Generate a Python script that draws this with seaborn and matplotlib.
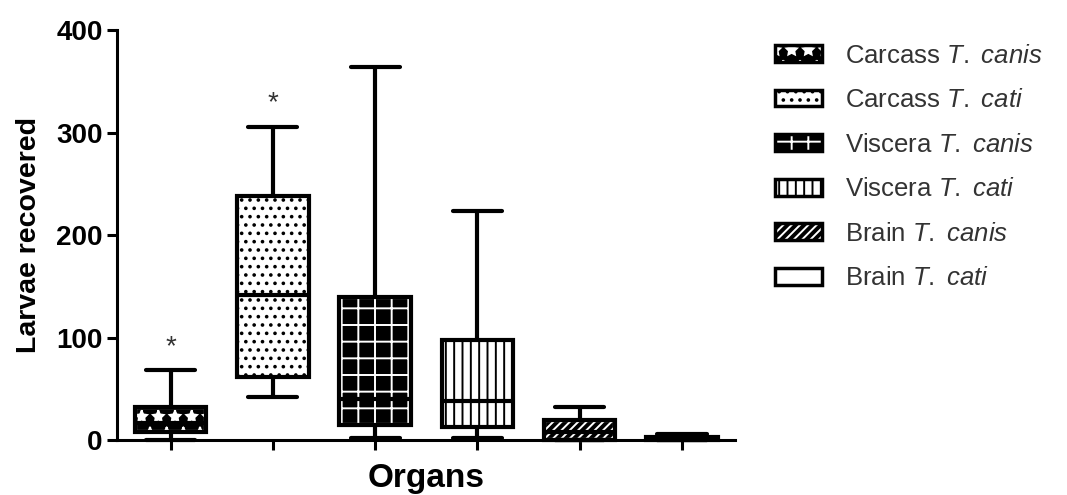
import numpy as np
import pandas as pd
import matplotlib
matplotlib.use("Agg")
import matplotlib.pyplot as plt
import seaborn as sns
from matplotlib.patches import Patch, PathPatch
from matplotlib.legend_handler import HandlerTuple

# groups, in plotting order
groups = ["Carcass T. canis", "Carcass T. cati", "Viscera T. canis",
          "Viscera T. cati", "Brain T. canis", "Brain T. cati"]

# five-number summaries: min, q1, median, q3, max
carcass_canis = [0, 8, 17, 32, 68]
carcass_cati = [42, 62, 142, 238, 306]
viscera_canis = [2, 15, 40, 140, 364]
viscera_cati = [2, 13, 38, 98, 224]
brain_canis = [0, 0, 8, 20, 32]
brain_cati = [0, 0, 1, 3, 6]

# significance stars
star_groups = ["Carcass T. canis", "Carcass T. cati"]
star_y = [91, 329]

legend_labels = [
    r"Carcass $\mathit{T.\ canis}$",
    r"Carcass $\mathit{T.\ cati}$",
    r"Viscera $\mathit{T.\ canis}$",
    r"Viscera $\mathit{T.\ cati}$",
    r"Brain $\mathit{T.\ canis}$",
    r"Brain $\mathit{T.\ cati}$",
]
hatches = ["*", "..", "+", "||", "////", ""]
dark = [True, False, True, False, True, False]

sns.set_style("ticks")
plt.rcParams["font.family"] = ["Liberation Sans", "DejaVu Sans"]
plt.rcParams["mathtext.fontset"] = "custom"
plt.rcParams["mathtext.rm"] = "Liberation Sans"
plt.rcParams["mathtext.it"] = "Liberation Sans:italic"
plt.rcParams["hatch.linewidth"] = 1.4
plt.rcParams["text.color"] = "black"
plt.rcParams["axes.labelcolor"] = "black"
plt.rcParams["ytick.color"] = "black"
plt.rcParams["xtick.color"] = "black"

df = pd.DataFrame({
    "group": np.repeat(groups, 5),
    "larvae": np.concatenate([carcass_canis, carcass_cati, viscera_canis,
                              viscera_cati, brain_canis, brain_cati]),
})

fig, ax = plt.subplots(figsize=(10.67, 4.95), dpi=100)
fig.subplots_adjust(left=0.110, right=0.689, bottom=0.111, top=0.939)

sns.boxplot(data=df, x="group", y="larvae", order=groups, whis=(0, 100),
            width=0.7, color="white", saturation=1, linecolor="black",
            linewidth=3, ax=ax)

# patterns on the boxes
for i, p in enumerate(list(ax.patches)):
    p.set_hatch(hatches[i])
    p.set_clip_on(False)
    if dark[i]:
        p.set_facecolor("black")
        p.set_edgecolor("white")
        outline = PathPatch(p.get_path(), transform=p.get_transform(),
                            facecolor="none", edgecolor="black", linewidth=3,
                            zorder=p.get_zorder() + 0.1, clip_on=False)
        ax.add_patch(outline)

# wider caps, rounded ends
for ln in ax.lines:
    ln.set_clip_on(False)
    ln.set_solid_capstyle("round")
    x = np.asarray(ln.get_xdata(), dtype=float)
    y = np.asarray(ln.get_ydata(), dtype=float)
    if len(x) == 2 and y[0] == y[1] and abs(x[1] - x[0]) < 0.5:
        c = x.mean()
        ln.set_xdata([c - 0.24, c + 0.24])
    ln.set_zorder(5)

for g, yv in zip(star_groups, star_y):
    ax.text(groups.index(g), yv, "*", ha="center", va="center",
            fontsize=20, color="#333333")

ax.set_ylim(0, 400)
ax.set_xlim(-0.52, 5.52)
ax.set_yticks([0, 100, 200, 300, 400])
ax.set_xticklabels([])
ax.tick_params(axis="both", length=7, width=2.2, color="black")
ax.tick_params(axis="y", labelsize=20)
for lab in ax.get_yticklabels():
    lab.set_fontweight("bold")
for s in ["left", "bottom"]:
    ax.spines[s].set_linewidth(2.2)
    ax.spines[s].set_color("black")
sns.despine(ax=ax)

ax.set_xlabel("Organs", fontsize=24, fontweight="bold", labelpad=6)
ax.set_ylabel("Larvae recovered", fontsize=20.5, fontweight="bold", labelpad=10)

# legend with pattern handles
handles = []
for i in range(len(groups)):
    if dark[i]:
        h = (Patch(facecolor="black", edgecolor="white", hatch=hatches[i], linewidth=0),
             Patch(facecolor="none", edgecolor="black", linewidth=2.5))
    else:
        h = (Patch(facecolor="white", edgecolor="black", hatch=hatches[i], linewidth=2.5),)
    handles.append(h)

fig.legend(handles, legend_labels, loc="upper left", bbox_to_anchor=(0.726, 0.912),
           frameon=False, fontsize=18.5, labelcolor="#333333",
           handlelength=1.85, handleheight=0.62, handletextpad=0.9,
           labelspacing=0.8, borderpad=0, borderaxespad=0,
           handler_map={tuple: HandlerTuple(ndivide=1, pad=0)})

fig.savefig("out.png", dpi=100)
